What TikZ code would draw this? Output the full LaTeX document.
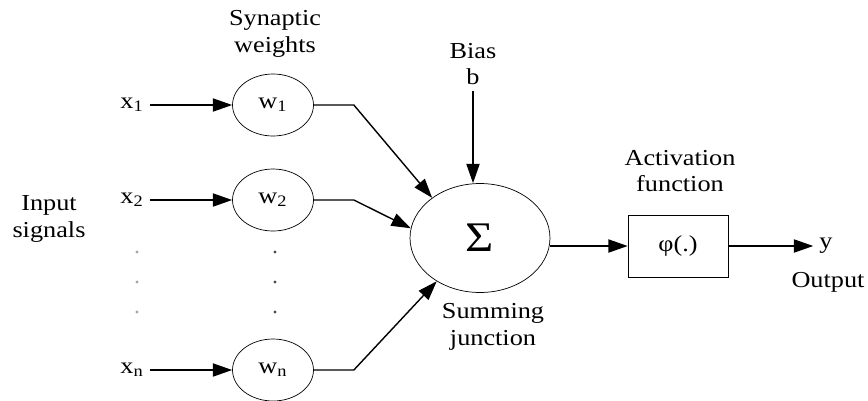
\documentclass[tikz,border=0pt]{standalone}
\usepackage{fontspec}
\setmainfont[FakeStretch=1.15]{Liberation Serif}
\usetikzlibrary{arrows.meta,shapes.geometric}

\begin{document}
\begin{tikzpicture}[
    x=0.02cm, y=-0.02cm,
    >={Triangle[length=11pt,width=7.5pt]},
    font=\fontsize{13}{15}\selectfont,
    wt/.style={draw, ellipse, minimum width=1.62cm, minimum height=1.24cm, inner sep=0pt},
    arr/.style={->, line width=0.8pt},
    lbl/.style={align=center}
]
    \useasboundingbox (0,0) rectangle (868,400);
    % inputs and weights
    \foreach \i/\y in {1/105,2/200,n/370} {
        \node[wt] (w\i) at (273,\y) {w\textsubscript{\i}};
        \node (x\i) at (132,\y) {x\textsubscript{\i}};
        \draw[arr] (x\i) -- (w\i);
    }
    \foreach \y in {252,282,312} {
        \fill[black!35] (137,\y) circle (0.9pt);
        \fill[black!70] (275,\y) circle (0.9pt);
    }
    \node[lbl] (inlbl) at (49,219) {Input\\signals};
    \node[lbl] (synlbl) at (275,34) {Synaptic\\weights};
    % summing junction
    \node[draw, ellipse, minimum width=2.8cm, minimum height=2.18cm,
          font=\fontsize{24}{24}\selectfont] (sum) at (480,238) {Σ};
    \draw[arr] (w1.east) -- ++(40,0) -- (sum.140);
    \draw[arr] (w2.east) -- ++(40,0) -- (sum.172);
    \draw[arr] (wn.east) -- ++(40,0) -- (sum.225);
    \node[lbl] (bias) at (473,64) {Bias\\b};
    \draw[arr] (bias) -- (bias |- sum.north);
    \node[lbl] (sumlbl) at (493,327) {Summing\\junction};
    % activation and output
    \node[draw, minimum width=2cm, minimum height=1.24cm] (act) at (678,246) {φ(.)};
    \node[lbl] (actlbl) at (680,171) {Activation\\function};
    \draw[arr] (sum.east |- act) -- (act.west);
    \node (y) at (826,246) {y};
    \draw[arr] (act) -- (act -| y.west);
    \node (out) at (828,282) {Output};
\end{tikzpicture}
\end{document}
